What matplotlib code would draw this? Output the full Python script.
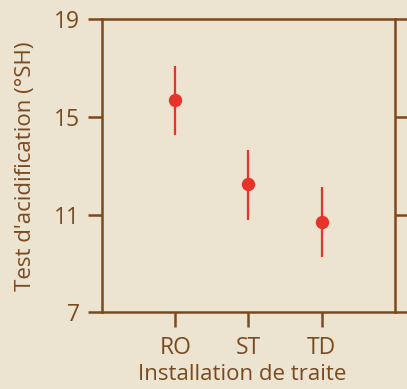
import numpy as np
import matplotlib.pyplot as plt

# acidification test by milking installation
installations = ['RO', 'ST', 'TD']
means = [15.7, 12.25, 10.7]
err_low = [1.45, 1.45, 1.42]
err_high = [1.37, 1.40, 1.42]

brown = '#7A4A1F'
red = '#E8332A'
bg = '#ECE3D0'

plt.rcParams['font.family'] = ['Open Sans', 'DejaVu Sans']

fig = plt.figure(figsize=(4.07, 3.89), dpi=100, facecolor=bg)
ax = fig.add_axes([0.2506, 0.1972, 0.9705 - 0.2506, 0.9504 - 0.1972])
ax.set_facecolor(bg)

x = np.arange(1, len(installations) + 1)
ax.errorbar(x, means, yerr=[err_low, err_high], fmt='o', color=red,
            ecolor=red, elinewidth=1.6, markersize=8.6, capsize=0)

ax.set_xlim(0, 4)
ax.set_ylim(7, 19)
ax.set_yticks([7, 11, 15, 19])
ax.set_xticks(x)
ax.set_xticklabels(installations)

for s in ax.spines.values():
    s.set_color(brown)
    s.set_linewidth(1.8)

ax.tick_params(axis='y', which='both', direction='out', length=10, width=1.8,
               color=brown, labelcolor=brown, labelsize=16.5, pad=6,
               right=True)
ax.tick_params(axis='x', direction='out', length=11, width=1.8,
               color=brown, labelcolor=brown, labelsize=16.5, pad=6)

ax.set_xlabel('Installation de traite', color=brown, fontsize=16)
ax.set_ylabel("Test d'acidification (°SH)", color=brown, fontsize=16)
ax.xaxis.set_label_coords(0.478, -0.175)
ax.yaxis.set_label_coords(-0.225, 0.5)

fig.savefig('out.png', dpi=100, facecolor=bg)
